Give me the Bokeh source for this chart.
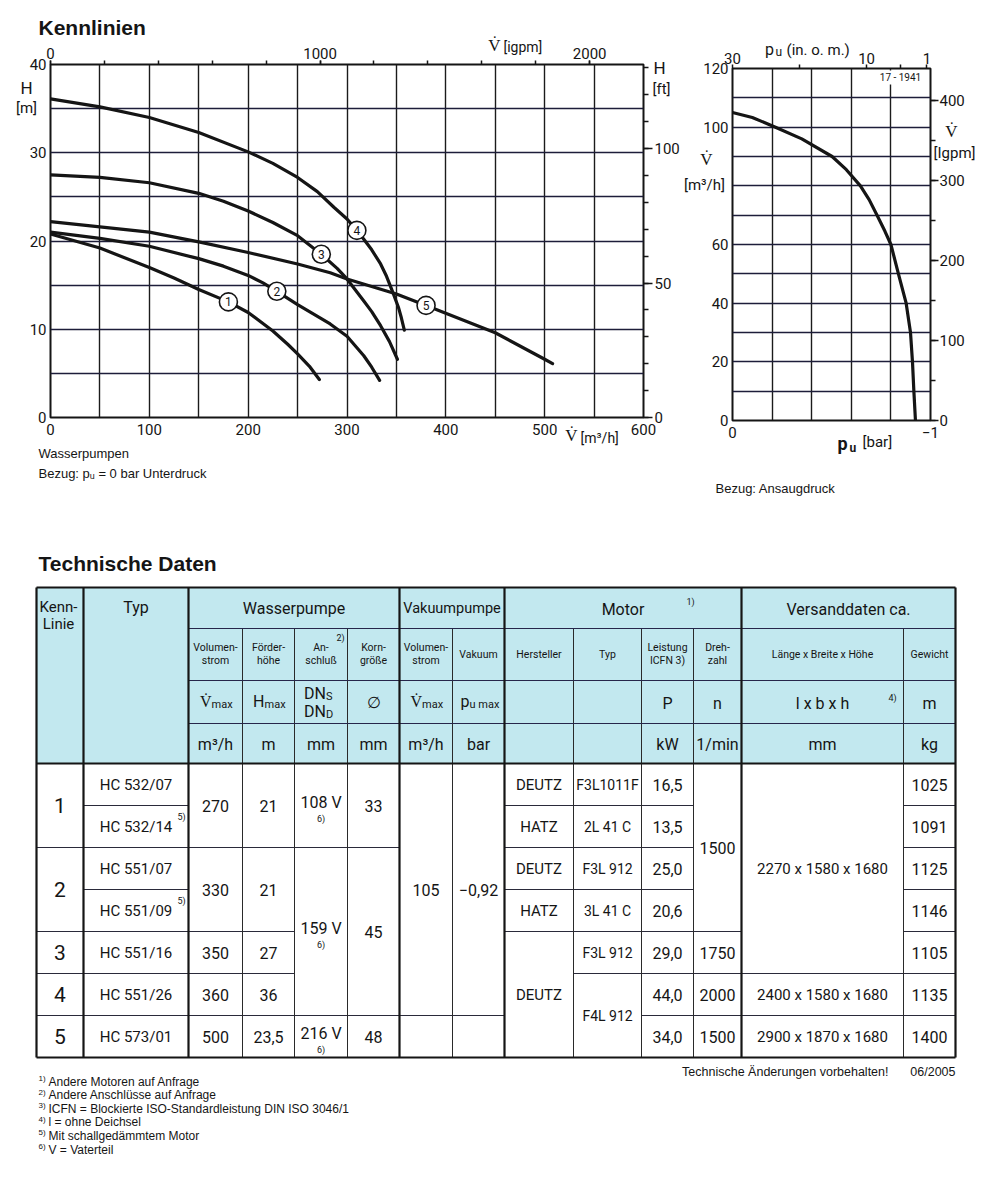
import numpy as np
from bokeh.plotting import figure
from bokeh.models import Range1d, LinearAxis, FixedTicker, Grid
from bokeh.layouts import column, row
from bokeh.embed import file_html
from bokeh.resources import INLINE
from bokeh.core.properties import value

NARROW = "Roboto"
SANS = "Liberation Sans"
INK = "#151515"
CYAN = "#c2e8ef"

# ---------------- Kennlinien (Wasserpumpen): V [m3/h] -> H [m] ----------------
c1_v = [0, 50, 100, 125, 150, 180, 200, 225, 240, 250, 262, 272]
c1_h = [20.8, 19.2, 17.0, 15.8, 14.5, 13.1, 11.9, 9.8, 8.3, 7.2, 5.8, 4.3]
c2_v = [0, 50, 100, 150, 175, 200, 215, 229, 250, 265, 283, 300, 317, 325, 333]
c2_h = [21.0, 20.3, 19.4, 18.0, 17.15, 16.1, 15.25, 14.3, 12.8, 11.8, 10.6, 9.2, 7.0, 5.7, 4.2]
c3_v = [0, 50, 100, 150, 175, 200, 225, 250, 274, 290, 300, 317, 325, 334, 343, 351]
c3_h = [27.5, 27.2, 26.6, 25.4, 24.5, 23.4, 22.1, 20.6, 18.5, 16.9, 15.7, 13.2, 12.0, 10.4, 8.6, 6.6]
c4_v = [0, 50, 100, 150, 200, 225, 250, 270, 287, 300, 310, 317, 325, 334, 340, 346, 352, 355, 358]
c4_h = [36.1, 35.2, 34.0, 32.3, 30.1, 28.8, 27.2, 25.6, 23.8, 22.5, 21.2, 20.2, 19.0, 17.4, 16.0, 14.3, 12.5, 11.3, 9.9]
c5_v = [0, 100, 150, 200, 250, 283, 300, 350, 380, 450, 500, 508]
c5_h = [22.2, 21.0, 19.9, 18.7, 17.4, 16.4, 15.7, 14.0, 12.7, 9.6, 6.6, 6.1]
curve_ids = ["1", "2", "3", "4", "5"]
mark_v = [180, 229, 274, 310, 380]
mark_h = [13.1, 14.3, 18.5, 21.2, 12.7]

# ---------------- Vakuumpumpe: pu [bar] -> V [m3/h] ----------------
pu_bar = [0, -0.1, -0.217, -0.35, -0.503, -0.575, -0.646, -0.69, -0.73, -0.77, -0.8, -0.838, -0.877, -0.899, -0.909, -0.916, -0.924]
vac_v = [105, 103.3, 100, 96.0, 90, 85.5, 80, 75.3, 70, 64.5, 60, 50, 40, 30, 20, 10, 0]

M3H_TO_IGPM = 3.6662
M_TO_FT = 3.2808
BAR_TO_INHG = 29.53

# ---------------- Technische Daten ----------------
kenn_linie = ["1", "2", "3", "4", "5"]
typ = ["HC 532/07", "HC 532/14", "HC 551/07", "HC 551/09", "HC 551/16", "HC 551/26", "HC 573/01"]
typ_note5 = [1, 3]
wp_vmax = ["270", "330", "350", "360", "500"]
wp_hmax = ["21", "21", "27", "36", "23,5"]
anschluss = ["108 V", "159 V", "216 V"]
korn = ["33", "45", "48"]
vp_vmax = ["105", ""]
vp_pumax = ["\u22120,92", ""]
hersteller = ["DEUTZ", "HATZ", "DEUTZ", "HATZ", "DEUTZ"]
motor_typ = ["F3L1011F", "2L 41 C", "F3L 912", "3L 41 C", "F3L 912", "F4L 912"]
leistung = ["16,5", "13,5", "25,0", "20,6", "29,0", "44,0", "34,0"]
drehzahl = ["1500", "1750", "2000", "1500"]
masse = ["2270 x 1580 x 1680", "2400 x 1580 x 1680", "2900 x 1870 x 1680"]
gewicht = ["1025", "1091", "1125", "1146", "1105", "1135", "1400"]
footnotes = ["Andere Motoren auf Anfrage", "Andere Anschlüsse auf Anfrage",
             "ICFN = Blockierte ISO-Standardleistung DIN ISO 3046/1", "l = ohne Deichsel",
             "Mit schallgedämmtem Motor", "V = Vaterteil"]


def style_axis(ax, size=15):
    ax.axis_line_color = None
    ax.major_label_text_font = NARROW
    ax.major_label_text_font_size = f"{size}px"
    ax.major_label_text_color = INK
    ax.major_tick_line_color = INK
    ax.minor_tick_line_color = INK
    ax.major_tick_line_width = 1.5
    ax.minor_tick_line_width = 1.5
    ax.major_tick_in = 0
    ax.minor_tick_in = 0


# ======================= left chart =======================
W1, H1 = 690, 500
L1, R1, T1, B1 = 50, 47, 64, 83
p1 = figure(width=W1, height=H1, x_range=Range1d(0, 600), y_range=Range1d(0, 40),
            output_backend="svg", toolbar_location=None, x_axis_location=None, y_axis_location=None,
            min_border_left=L1, min_border_right=R1, min_border_top=T1, min_border_bottom=B1)
p1.extra_x_ranges = {"igpm": Range1d(0, 600 * M3H_TO_IGPM)}
p1.extra_y_ranges = {"ft": Range1d(0, 40 * M_TO_FT)}
p1.outline_line_color = INK
p1.outline_line_width = 2
p1.xgrid.visible = False
p1.ygrid.visible = False

ax = LinearAxis(ticker=FixedTicker(ticks=list(range(0, 601, 100))))
style_axis(ax)
ax.major_tick_out = 0
ax.major_label_standoff = 6
p1.add_layout(ax, "below")
ay = LinearAxis(ticker=FixedTicker(ticks=list(range(0, 41, 10))))
style_axis(ay)
ay.major_tick_out = 0
ay.major_label_standoff = 4
p1.add_layout(ay, "left")
at = LinearAxis(x_range_name="igpm", ticker=FixedTicker(ticks=[0, 1000, 2000], minor_ticks=list(range(0, 2201, 200))))
style_axis(at)
at.major_tick_out = 4
at.minor_tick_out = 4
at.major_label_standoff = 2
p1.add_layout(at, "above")
ar = LinearAxis(y_range_name="ft", ticker=FixedTicker(ticks=[0, 50, 100], minor_ticks=list(range(0, 131, 10))))
style_axis(ar)
ar.major_tick_out = 9
ar.minor_tick_out = 5
ar.major_label_standoff = 2
p1.add_layout(ar, "right")

p1.add_layout(Grid(dimension=0, ticker=FixedTicker(ticks=list(range(50, 600, 50))),
                   grid_line_color="#1b1b1b", grid_line_width=1.4))
p1.add_layout(Grid(dimension=1, ticker=FixedTicker(ticks=list(range(5, 40, 5))),
                   grid_line_color="#1d1d3a", grid_line_width=1.4))

for vv, hh in [(c1_v, c1_h), (c2_v, c2_h), (c3_v, c3_h), (c4_v, c4_h), (c5_v, c5_h)]:
    p1.line(vv, hh, line_width=3.2, line_color=INK, line_join="round", line_cap="round")
p1.scatter(mark_v, mark_h, size=18, fill_color="white", line_color=INK, line_width=1.6)
p1.text(mark_v, mark_h, text=curve_ids, text_align="center", text_baseline="middle",
        text_font=value(NARROW), text_font_size="12px", text_color=INK)

# ======================= right chart =======================
W2, H2 = 318, 500
L2, R2, T2, B2 = 42, 78, 68, 80
p2 = figure(width=W2, height=H2, x_range=Range1d(0, -1), y_range=Range1d(0, 120),
            output_backend="svg", toolbar_location=None, x_axis_location=None, y_axis_location=None,
            min_border_left=L2, min_border_right=R2, min_border_top=T2, min_border_bottom=B2)
p2.extra_x_ranges = {"inhg": Range1d(30, 30 - BAR_TO_INHG)}
p2.extra_y_ranges = {"igpm": Range1d(0, 120 * M3H_TO_IGPM)}
p2.outline_line_color = INK
p2.outline_line_width = 2
p2.xgrid.visible = False
p2.ygrid.visible = False

bx = LinearAxis(ticker=FixedTicker(ticks=[0, -1]))
style_axis(bx)
bx.major_tick_out = 0
bx.major_label_standoff = 6
p2.add_layout(bx, "below")
by = LinearAxis(ticker=FixedTicker(ticks=[0, 20, 40, 60, 100, 120]))
style_axis(by)
by.major_tick_out = 0
by.major_label_standoff = 4
p2.add_layout(by, "left")
bt = LinearAxis(x_range_name="inhg", ticker=FixedTicker(ticks=[30, 10, 1], minor_ticks=[20, 5]))
style_axis(bt)
bt.major_tick_out = 4
bt.minor_tick_out = 4
bt.major_label_standoff = 1
p2.add_layout(bt, "above")
br = LinearAxis(y_range_name="igpm", ticker=FixedTicker(ticks=[0, 100, 200, 300, 400], minor_ticks=list(range(0, 441, 50))))
style_axis(br)
br.major_tick_out = 8
br.minor_tick_out = 5
br.major_label_standoff = 1
p2.add_layout(br, "right")

p2.add_layout(Grid(dimension=0, ticker=FixedTicker(ticks=[-0.2, -0.4, -0.6, -0.8]),
                   grid_line_color="#1b1b1b", grid_line_width=1.4))
p2.add_layout(Grid(dimension=1, ticker=FixedTicker(ticks=list(range(10, 120, 10))),
                   grid_line_color="#1d1d3a", grid_line_width=1.4))
p2.line(pu_bar, vac_v, line_width=3.2, line_color=INK, line_join="round")

# ======================= page overlay (texts + table) =======================
W3, H3 = 1008, 1180
p3 = figure(width=W3, height=H3, x_range=Range1d(0, W3), y_range=Range1d(H3, 0),
            output_backend="svg", toolbar_location=None, x_axis_location=None, y_axis_location=None,
            min_border=0)
p3.outline_line_color = None
p3.background_fill_color = None
p3.border_fill_color = None
p3.xgrid.visible = False
p3.ygrid.visible = False
p3.margin = (-H1, 0, 0, 0)

texts = {}


def T(x, y, s, size, align="center", font=NARROW, style="normal"):
    d = texts.setdefault((size, align, font, style), {"x": [], "y": [], "t": []})
    d["x"].append(x)
    d["y"].append(y)
    d["t"].append(s)


# chart annotations
T(38, 27, "Kennlinien", 21, align="left", font=SANS, style="bold")
T(26, 87, "H", 17)
T(26, 107, "[m]", 15)
T(494, 44, "V\u0307", 17)
T(503, 46, "[igpm]", 14, align="left")
T(653, 67, "H", 17, align="left")
T(652, 88, "[ft]", 15, align="left")
T(571, 434, "V\u0307", 17)
T(580, 437, "[m\u00b3/h]", 14, align="left")
T(38, 453, "Wasserpumpen", 13, align="left", font=SANS)
T(38, 473, "Bezug: p\u1d64 = 0 bar Unterdruck", 13, align="left", font=SANS)

T(769, 49, "p", 16)
T(775, 51, "u", 12, align="left")
T(786, 49, "(in. o. m.)", 15, align="left")
T(706, 158, "V\u0307", 17)
T(704, 184, "[m\u00b3/h]", 15)
T(951, 130, "V\u0307", 17)
T(954, 152, "[Igpm]", 15)
T(842, 443, "p", 18, style="bold")
T(849, 447, "u", 12, align="left", style="bold")
T(862, 441, "[bar]", 15, align="left")
T(715, 488, "Bezug: Ansaugdruck", 13, align="left", font=SANS)
p3.quad(left=[872], right=[928], top=[70], bottom=[84], fill_color="white", line_color=None)
T(900, 77, "17 - 1941", 10)

# table
C = [36, 83, 188, 242, 294, 347, 399, 452, 504, 573, 641, 693, 741, 903, 955]
HR = [587, 628, 680, 723, 763]
R = [763, 805, 847, 889, 931, 973, 1015, 1057]


def cc(i):
    return (C[i] + C[i + 1]) / 2


p3.quad(left=[C[0]], right=[C[-1]], top=[HR[0]], bottom=[HR[-1]], fill_color=CYAN, line_color=None)

T(58, 606, "Kenn-", 15)
T(58, 623, "Linie", 15)
T(cc(1), 607, "Typ", 16)
T((C[2] + C[6]) / 2, 608, "Wasserpumpe", 16)
T((C[6] + C[8]) / 2, 608, "Vakuumpumpe", 14.5)
T((C[8] + C[12]) / 2, 609, "Motor", 16)
T(690, 601, "1)", 9)
T((C[12] + C[14]) / 2, 609, "Versanddaten ca.", 16)

sub_heads = [("Volumen-", "strom"), ("Förder-", "höhe"), ("An-", "schluß"), ("Korn-", "größe"),
             ("Volumen-", "strom"), ("Vakuum",), ("Hersteller",), ("Typ",), ("Leistung", "ICFN 3)"),
             ("Dreh-", "zahl"), ("Länge x Breite x Höhe",), ("Gewicht",)]
for k, lines in enumerate(sub_heads):
    i = k + 2
    if len(lines) == 2:
        T(cc(i), 647, lines[0], 10.5)
        T(cc(i), 660, lines[1], 10.5)
    else:
        T(cc(i), 654, lines[0], 10.5)
T(340, 637, "2)", 9)

units = ["m\u00b3/h", "m", "mm", "mm", "m\u00b3/h", "bar", "", "", "kW", "1/min", "mm", "kg"]
for k, u in enumerate(units):
    if u:
        T(cc(k + 2), 744, u, 16)

for i, main, sub, off in [(2, "V\u0307", "max", -4), (3, "H", "max", -4), (6, "V\u0307", "max", -4), (7, "p", "u max", -9)]:
    T(cc(i) + off, 701, main, 16, align="right")
    T(cc(i) + off, 704, sub, 11, align="left")
T(cc(4) + 5, 693, "DN", 16, align="right")
T(cc(4) + 5, 696, "S", 11, align="left")
T(cc(4) + 5, 711, "DN", 16, align="right")
T(cc(4) + 5, 714, "D", 11, align="left")
T(cc(5), 702, "\u2205", 16)
T(cc(10), 703, "P", 16)
T(cc(11), 703, "n", 16)
T(cc(12), 703, "l x b x h", 16)
T(892, 697, "4)", 9)
T(cc(13), 703, "m", 16)

body_cols = [
    (kenn_linie, [2, 2, 1, 1, 1], 21),
    (typ, [1] * 7, 15),
    (wp_vmax, [2, 2, 1, 1, 1], 16),
    (wp_hmax, [2, 2, 1, 1, 1], 16),
    (anschluss, [2, 4, 1], 16),
    (korn, [2, 4, 1], 16),
    (vp_vmax, [6, 1], 16),
    (vp_pumax, [6, 1], 16),
    (hersteller, [1, 1, 1, 1, 3], 15),
    (motor_typ, [1, 1, 1, 1, 1, 2], 14),
    (leistung, [1] * 7, 16),
    (drehzahl, [4, 1, 1, 1], 16),
    (masse, [5, 1, 1], 15),
    (gewicht, [1] * 7, 16),
]
hx0, hx1, hy = [], [], []
for i, (vals, spans, size) in enumerate(body_cols):
    start = 0
    for j, (txt, n) in enumerate(zip(vals, spans)):
        end = start + n
        ym = (R[start] + R[end]) / 2
        if i == 4:
            T(cc(i), ym - 3, txt, size)
            T(cc(i), ym + 13, "6)", 9)
        elif txt:
            T(cc(i), ym, txt, size)
        if i == 1 and j in typ_note5:
            T(181, ym - 10, "5)", 9)
        if end < len(R) - 1:
            hx0.append(C[i]); hx1.append(C[i + 1]); hy.append(R[end])
        start = end
p3.segment(x0=hx0, y0=hy, x1=hx1, y1=hy, line_color="#2a2a3a", line_width=1)

thin_v = [242, 294, 347, 452, 573, 641, 693, 903]
thick_v = [36, 83, 188, 399, 504, 741, 955]
p3.segment(x0=thin_v, y0=[HR[1]] * len(thin_v), x1=thin_v, y1=[R[-1]] * len(thin_v),
           line_color="#2a2a2a", line_width=1)
p3.segment(x0=[C[2]] * 3, y0=HR[1:4], x1=[C[-1]] * 3, y1=HR[1:4], line_color="#26264a", line_width=1)
p3.segment(x0=[C[0]] * 3, y0=[HR[0], HR[-1], R[-1]], x1=[C[-1]] * 3, y1=[HR[0], HR[-1], R[-1]],
           line_color=INK, line_width=2.2)
p3.segment(x0=thick_v, y0=[HR[0]] * len(thick_v), x1=thick_v, y1=[R[-1]] * len(thick_v),
           line_color=INK, line_width=2.2)

T(38, 563, "Technische Daten", 21, align="left", font=SANS, style="bold")
for k, s in enumerate(footnotes):
    y = 1081 + k * 13.6
    T(38, y - 3, f"{k + 1})", 8, align="left", font=SANS)
    T(48, y, s, 12, align="left", font=SANS)
T(888, 1071, "Technische Änderungen vorbehalten!", 12.5, align="right", font=SANS)
T(955, 1071, "06/2005", 12.5, align="right", font=SANS)

for (size, align, font, style), d in texts.items():
    p3.text(x=d["x"], y=d["y"], text=d["t"], text_align=align, text_baseline="middle",
            text_font=value(font), text_font_size=f"{size}px", text_font_style=style, text_color=INK)

layout = column(row(column(p1), column(p2), spacing=0), p3, spacing=0)
open("out.html", "w").write(file_html(layout, INLINE, title="Kennlinien"))
